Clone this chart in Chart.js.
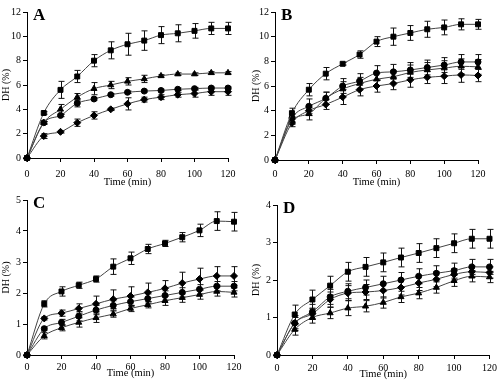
<!DOCTYPE html>
<html>
<head>
<meta charset="utf-8">
<script src="https://cdn.jsdelivr.net/npm/chart.js@4/dist/chart.umd.min.js"></script>
<style>
  body { margin: 0; background: #fff; }
  #wrap { position: relative; width: 500px; height: 385px; }
  canvas { position: absolute; }
</style>
</head>
<body>
<div id="wrap">
  <canvas id="cA" width="250" height="192" style="left:0;top:0"></canvas>
  <canvas id="cB" width="250" height="192" style="left:250px;top:0"></canvas>
  <canvas id="cC" width="250" height="193" style="left:0;top:192px"></canvas>
  <canvas id="cD" width="250" height="193" style="left:250px;top:192px"></canvas>
</div>
<script>
// temps d'hydrolyse (min)
const timeMin = [0, 10, 20, 30, 40, 50, 60, 70, 80, 90, 100, 110, 120];

// Panneau A
const aSquare = [0, 3.7, 5.6, 6.7, 8.0, 8.85, 9.35, 9.65, 10.1, 10.25, 10.45, 10.65, 10.65];
const aSquareErr = [0, 0.1, 0.7, 0.5, 0.5, 0.7, 0.9, 0.8, 0.7, 0.7, 0.6, 0.5, 0.5];
const aTriangle = [0, 2.9, 4.0, 5.0, 5.7, 6.0, 6.3, 6.5, 6.75, 6.9, 6.9, 7.0, 7.0];
const aTriangleErr = [0, 0.1, 0.4, 0.3, 0.5, 0.3, 0.3, 0.3, 0.1, 0.1, 0.1, 0.1, 0.1];
const aCircle = [0, 2.9, 3.5, 4.5, 4.85, 5.2, 5.4, 5.5, 5.55, 5.65, 5.7, 5.75, 5.75];
const aCircleErr = [0, 0.1, 0.1, 0.3, 0.1, 0.1, 0.1, 0.1, 0.1, 0.1, 0.1, 0.1, 0.1];
const aDiamond = [0, 1.8, 2.15, 2.9, 3.5, 4.0, 4.45, 4.8, 5.0, 5.2, 5.3, 5.45, 5.45];
const aDiamondErr = [0, 0.2, 0.1, 0.3, 0.3, 0.1, 0.5, 0.2, 0.2, 0.2, 0.3, 0.3, 0.3];

// Panneau B
const bSquare = [0, 3.8, 5.7, 7.0, 7.8, 8.55, 9.6, 10.0, 10.3, 10.6, 10.75, 11.0, 11.0];
const bSquareErr = [0, 0.4, 0.5, 0.5, 0.1, 0.3, 0.4, 0.7, 0.6, 0.65, 0.6, 0.45, 0.4];
const bCircle = [0, 3.4, 4.35, 5.0, 6.0, 6.4, 7.05, 7.15, 7.3, 7.5, 7.7, 7.95, 7.95];
const bCircleErr = [0, 0.3, 0.6, 0.5, 0.6, 0.6, 0.6, 0.6, 0.6, 0.6, 0.6, 0.6, 0.6];
const bTriangle = [0, 3.2, 3.75, 5.0, 5.75, 6.2, 6.55, 6.75, 7.1, 7.3, 7.45, 7.6, 7.55];
const bTriangleErr = [0, 0.3, 0.5, 0.5, 0.6, 0.5, 0.5, 0.5, 0.6, 0.6, 0.6, 0.6, 0.6];
const bDiamond = [0, 3.0, 4.0, 4.5, 5.1, 5.7, 6.0, 6.2, 6.5, 6.7, 6.8, 6.9, 6.85];
const bDiamondErr = [0, 0.3, 0.4, 0.4, 0.6, 0.5, 0.5, 0.5, 0.6, 0.5, 0.6, 0.6, 0.5];

// Panneau C
const cSquare = [0, 1.65, 2.05, 2.25, 2.45, 2.85, 3.12, 3.42, 3.6, 3.8, 4.02, 4.32, 4.3];
const cSquareErr = [0, 0.1, 0.15, 0.1, 0.1, 0.25, 0.2, 0.15, 0.1, 0.15, 0.2, 0.3, 0.3];
const cDiamond = [0, 1.18, 1.35, 1.5, 1.65, 1.8, 1.9, 2.02, 2.15, 2.32, 2.45, 2.55, 2.55];
const cDiamondErr = [0, 0.05, 0.1, 0.15, 0.25, 0.3, 0.3, 0.3, 0.25, 0.35, 0.35, 0.3, 0.3];
const cCircle = [0, 0.85, 1.05, 1.25, 1.45, 1.6, 1.72, 1.82, 1.92, 2.02, 2.12, 2.22, 2.22];
const cCircleErr = [0, 0.05, 0.1, 0.15, 0.15, 0.15, 0.15, 0.15, 0.15, 0.15, 0.15, 0.15, 0.15];
const cTriangle = [0, 0.62, 0.88, 1.05, 1.2, 1.32, 1.5, 1.62, 1.75, 1.85, 1.95, 2.05, 2.02];
const cTriangleErr = [0, 0.1, 0.1, 0.15, 0.15, 0.1, 0.1, 0.1, 0.15, 0.15, 0.15, 0.15, 0.15];

// Panneau D
const dSquare = [0, 1.08, 1.48, 1.85, 2.22, 2.35, 2.47, 2.6, 2.72, 2.85, 2.98, 3.1, 3.1];
const dSquareErr = [0, 0.25, 0.25, 0.25, 0.25, 0.25, 0.25, 0.25, 0.25, 0.25, 0.25, 0.25, 0.25];
const dCircle = [0, 0.85, 1.15, 1.55, 1.7, 1.8, 1.9, 2.0, 2.1, 2.18, 2.25, 2.35, 2.35];
const dCircleErr = [0, 0.2, 0.2, 0.2, 0.2, 0.2, 0.2, 0.2, 0.2, 0.2, 0.2, 0.2, 0.2];
const dDiamond = [0, 0.85, 1.1, 1.48, 1.65, 1.68, 1.72, 1.8, 1.92, 2.02, 2.15, 2.22, 2.2];
const dDiamondErr = [0, 0.15, 0.15, 0.2, 0.2, 0.2, 0.2, 0.2, 0.2, 0.2, 0.15, 0.15, 0.15];
const dTriangle = [0, 0.68, 1.0, 1.12, 1.25, 1.3, 1.4, 1.55, 1.65, 1.8, 1.98, 2.1, 2.08];
const dTriangleErr = [0, 0.15, 0.15, 0.15, 0.2, 0.15, 0.15, 0.15, 0.15, 0.15, 0.15, 0.15, 0.15];

const serif = '"Liberation Serif", "DejaVu Serif", serif';

// barres d'erreur
const errorBarPlugin = {
    id: 'errorBars',
    beforeDatasetsDraw(chart) {
        const ctx = chart.ctx;
        const yScale = chart.scales.y;
        ctx.save();
        ctx.strokeStyle = '#111';
        ctx.lineWidth = 1;
        chart.data.datasets.forEach((ds, i) => {
            if (!ds.errorBars) return;
            const meta = chart.getDatasetMeta(i);
            meta.data.forEach((pt, j) => {
                const e = ds.errorBars[j];
                if (!e) return;
                const v = ds.data[j].y;
                const yTop = yScale.getPixelForValue(v + e);
                const yBot = yScale.getPixelForValue(v - e);
                const x = Math.round(pt.x) + 0.5;
                ctx.beginPath();
                ctx.moveTo(x, yTop); ctx.lineTo(x, yBot);
                ctx.moveTo(x - 3, yTop); ctx.lineTo(x + 3, yTop);
                ctx.moveTo(x - 3, yBot); ctx.lineTo(x + 3, yBot);
                ctx.stroke();
            });
        });
        ctx.restore();
    }
};

// lettre du panneau
const panelLetterPlugin = {
    id: 'panelLetter',
    afterDraw(chart, args, opts) {
        const ctx = chart.ctx;
        ctx.save();
        ctx.font = 'bold 17px ' + serif;
        ctx.fillStyle = '#000';
        ctx.textBaseline = 'top';
        ctx.fillText(opts.text, chart.chartArea.left + opts.dx, chart.chartArea.top - 5);
        ctx.restore();
    }
};

function makeSeries(values, errs, style, radius) {
    return {
        data: timeMin.map((t, i) => ({ x: t, y: values[i] })),
        errorBars: errs,
        pointStyle: style,
        pointRadius: radius,
        pointBackgroundColor: '#000',
        pointBorderColor: '#000',
        borderColor: '#444',
        borderWidth: 1,
        tension: 0.4,
        cubicInterpolationMode: 'monotone',
        clip: false
    };
}

function makePanel(id, letter, yMax, yStep, series, geo) {
    new Chart(document.getElementById(id), {
        type: 'line',
        data: { datasets: series },
        options: {
            responsive: false,
            animation: false,
            layout: { padding: { left: 0, right: geo.right, top: geo.top, bottom: geo.bottom } },
            plugins: {
                legend: { display: false },
                tooltip: { enabled: false },
                panelLetter: { text: letter, dx: 6 }
            },
            scales: {
                x: {
                    type: 'linear', min: 0, max: 120,
                    ticks: { stepSize: 20, color: '#000', font: { family: serif, size: 10 }, padding: geo.tp, maxRotation: 0 },
                    grid: { drawOnChartArea: false, drawTicks: true, tickLength: 4, color: '#000' },
                    border: { color: '#000' },
                    title: { display: true, text: 'Time (min)', color: '#000', font: { family: serif, size: 10.5 }, padding: 0 },
                    afterFit(s) { s.height = geo.xh; }
                },
                y: {
                    min: 0, max: yMax,
                    ticks: { stepSize: yStep, color: '#000', font: { family: serif, size: 10 }, padding: 2 },
                    grid: { drawOnChartArea: false, drawTicks: true, tickLength: 4, color: '#000' },
                    border: { color: '#000' },
                    title: { display: true, text: 'DH (%)', color: '#000', font: { family: serif, size: 10 }, padding: 0 },
                    afterFit(s) { s.width = geo.yw; }
                }
            }
        },
        plugins: [errorBarPlugin, panelLetterPlugin]
    });
}

makePanel('cA', 'A', 12, 2, [
    makeSeries(aSquare, aSquareErr, 'rect', 3.5),
    makeSeries(aTriangle, aTriangleErr, 'triangle', 3.5),
    makeSeries(aCircle, aCircleErr, 'circle', 3),
    makeSeries(aDiamond, aDiamondErr, 'rectRot', 3.5)
], { right: 22, top: 12, bottom: 3, xh: 31, yw: 27, tp: 6 });

makePanel('cB', 'B', 12, 2, [
    makeSeries(bSquare, bSquareErr, 'rect', 3.5),
    makeSeries(bCircle, bCircleErr, 'circle', 3),
    makeSeries(bTriangle, bTriangleErr, 'triangle', 3.5),
    makeSeries(bDiamond, bDiamondErr, 'rectRot', 3.5)
], { right: 22, top: 12, bottom: 3, xh: 29, yw: 25, tp: 4 });

makePanel('cC', 'C', 5, 1, [
    makeSeries(cSquare, cSquareErr, 'rect', 3.5),
    makeSeries(cDiamond, cDiamondErr, 'rectRot', 3.5),
    makeSeries(cCircle, cCircleErr, 'circle', 3),
    makeSeries(cTriangle, cTriangleErr, 'triangle', 3.5)
], { right: 16, top: 8, bottom: 5, xh: 25, yw: 27, tp: 2 });

makePanel('cD', 'D', 4, 1, [
    makeSeries(dSquare, dSquareErr, 'rect', 3.5),
    makeSeries(dCircle, dCircleErr, 'circle', 3),
    makeSeries(dDiamond, dDiamondErr, 'rectRot', 3.5),
    makeSeries(dTriangle, dTriangleErr, 'triangle', 3.5)
], { right: 10, top: 13, bottom: 4, xh: 26, yw: 27, tp: 3 });
</script>
</body>
</html>
